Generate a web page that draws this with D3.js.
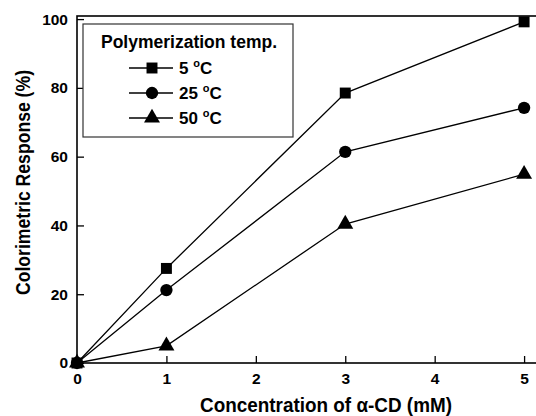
<!DOCTYPE html>
<html>
<head>
<meta charset="utf-8">
<script src="https://cdn.jsdelivr.net/npm/d3@7"></script>
<style>
  body { margin: 0; background: #fff; }
  text { font-family: "Liberation Sans", Arial, sans-serif; font-weight: bold; }
</style>
</head>
<body>
<div id="chart"></div>
<script>
// data
var concentrations = [0, 1, 3, 5];
var temp5 = [0, 27.5, 78.5, 99.2];
var temp25 = [0, 21.2, 61.4, 74.2];
var temp50 = [0, 5.0, 40.4, 54.9];
var seriesNames = ["5 \u00B0C", "25 \u00B0C", "50 \u00B0C"];
var markerTypes = [d3.symbolSquare, d3.symbolCircle, d3.symbolTriangle];
var xTicks = [0, 1, 2, 3, 4, 5];
var yTicks = [0, 20, 40, 60, 80, 100];

var width = 536, height = 416;
var plotLeft = 77, plotTop = 16, plotBottom = 363, plotRight = 546;

var svg = d3.select("#chart").append("svg")
  .attr("width", width)
  .attr("height", height);

var x = d3.scaleLinear().domain([0, 5.245]).range([plotLeft, plotRight]);
var y = d3.scaleLinear().domain([0, 100.9]).range([plotBottom, plotTop]);

// frame
svg.append("rect")
  .attr("x", plotLeft).attr("y", plotTop)
  .attr("width", plotRight - plotLeft).attr("height", plotBottom - plotTop)
  .attr("fill", "none").attr("stroke", "#000").attr("stroke-width", 1.6);

// axes with inward ticks
var xAxis = svg.append("g")
  .attr("transform", "translate(0," + plotBottom + ")")
  .call(d3.axisBottom(x).tickValues(xTicks).tickFormat(d3.format("d"))
    .tickSizeInner(-7).tickSizeOuter(0).tickPadding(10));
var yAxis = svg.append("g")
  .attr("transform", "translate(" + plotLeft + ",0)")
  .call(d3.axisLeft(y).tickValues(yTicks).tickFormat(d3.format("d"))
    .tickSizeInner(-7).tickSizeOuter(0).tickPadding(9));

[xAxis, yAxis].forEach(function(a){
  a.select(".domain").remove();
  a.selectAll(".tick line").attr("stroke", "#000").attr("stroke-width", 1.3);
  a.selectAll(".tick text")
    .attr("fill", "#000")
    .style("font-size", "15.5px")
    .style("font-family", "'Liberation Sans', Arial, sans-serif")
    .style("font-weight", "bold");
});

// series
var allSeries = [temp5, temp25, temp50];
var line = d3.line()
  .x(function(d, i){ return x(concentrations[i]); })
  .y(function(d){ return y(d); });

allSeries.forEach(function(vals, s){
  svg.append("path")
    .datum(vals)
    .attr("d", line)
    .attr("fill", "none")
    .attr("stroke", "#000")
    .attr("stroke-width", 1.3);
  svg.selectAll(".m" + s)
    .data(vals)
    .enter()
    .append("path")
    .attr("d", d3.symbol().type(markerTypes[s]).size(s == 2 ? 110 : 120))
    .attr("transform", function(d, i){ return "translate(" + x(concentrations[i]) + "," + y(d) + ")"; })
    .attr("fill", "#000");
});

// legend
var legend = svg.append("g");
legend.append("rect")
  .attr("x", 83).attr("y", 24).attr("width", 210).attr("height", 113)
  .attr("fill", "#fff").attr("stroke", "#333").attr("stroke-width", 1.2);
legend.append("text")
  .attr("x", 101).attr("y", 48)
  .style("font-size", "17.5px")
  .text("Polymerization temp.");

seriesNames.forEach(function(name, i){
  var ly = 68 + i * 25;
  legend.append("line")
    .attr("x1", 129).attr("x2", 173).attr("y1", ly).attr("y2", ly)
    .attr("stroke", "#000").attr("stroke-width", 1.3);
  legend.append("path")
    .attr("d", d3.symbol().type(markerTypes[i]).size(i == 2 ? 110 : 120))
    .attr("transform", "translate(152," + ly + ")")
    .attr("fill", "#000");
  var parts = name.split(" \u00B0");
  var t = legend.append("text")
    .attr("x", 179).attr("y", ly + 6)
    .style("font-size", "17px");
  t.append("tspan").text(parts[0] + " ");
  t.append("tspan").attr("dy", -7).style("font-size", "11px").text("o");
  t.append("tspan").attr("dy", 7).text(parts[1]);
});

// axis titles
svg.append("text")
  .attr("x", 200).attr("y", 412)
  .attr("textLength", 252)
  .attr("lengthAdjust", "spacingAndGlyphs")
  .style("font-size", "21px")
  .text("Concentration of \u03B1-CD (mM)");

svg.append("text")
  .attr("transform", "translate(30,295) rotate(-90)")
  .attr("textLength", 225)
  .attr("lengthAdjust", "spacingAndGlyphs")
  .style("font-size", "21px")
  .text("Colorimetric Response (%)");
</script>
</body>
</html>
